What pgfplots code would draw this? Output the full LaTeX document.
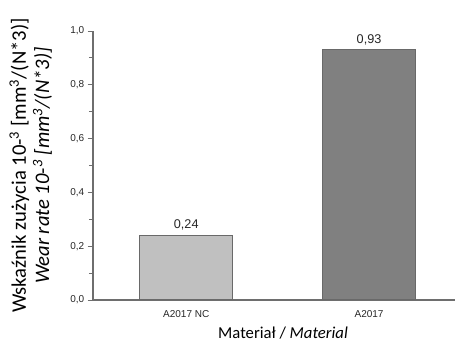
\documentclass[border=0pt]{standalone}
\usepackage{pgfplots}
\pgfplotsset{compat=1.18}
\usepackage{fontspec}
\setmainfont{Carlito}
\newfontfamily\arial{Liberation Sans}
\definecolor{barA}{RGB}{192,192,192}
\definecolor{barB}{RGB}{128,128,128}
\definecolor{edge}{RGB}{105,105,105}
\definecolor{axc}{RGB}{110,110,110}
\begin{document}
\begin{tikzpicture}[x=0.75pt,y=0.75pt]
\useasboundingbox (-93,-42) rectangle (362,300);
\begin{axis}[
  at={(0,0)}, anchor=origin,
  scale only axis, width=271.5pt, height=201.75pt,
  xmin=0.49, xmax=2.47, ymin=0, ymax=1.0,
  axis x line=bottom, axis y line=left,
  axis line style={-, draw=axc, line width=0.9pt},
  xtick={1,2}, xticklabels={A2017 NC, A2017},
  x tick style={draw=none},
  x tick label style={font=\arial\fontsize{7.5}{9}\selectfont, text=black!85, yshift=0pt},
  ytick={0,0.2,0.4,0.6,0.8,1.0},
  minor y tick num=1,
  tick align=outside,
  y tick style={draw=axc, line width=0.7pt},
  major tick length=4pt, minor tick length=3pt,
  y tick label style={font=\arial\fontsize{7.5}{9}\selectfont, text=black!85, xshift=1pt},
  /pgf/number format/assume math mode=true,
  yticklabel style={/pgf/number format/.cd, fixed, fixed zerofill, precision=1, use comma},
  ylabel={Wskaźnik zużycia 10-\textsuperscript{3} [mm\textsuperscript{3}/(N*3)]\\\textit{Wear rate 10-\textsuperscript{3} [mm\textsuperscript{3}/(N*3)]}},
  ylabel style={align=center, font=\fontsize{15.5}{17.5}\selectfont, at={(axis description cs:-0.10,0.5)}, anchor=south},
  xlabel={Materiał / \textit{Material}},
  xlabel style={font=\fontsize{12.5}{15}\selectfont, at={(axis description cs:0.525,0)}, anchor=north, yshift=-17pt},
  ybar, bar width=69.75pt, bar shift=0pt,
  nodes near coords={\pgfmathprintnumber[fixed,fixed zerofill,precision=2,use comma,assume math mode=true]{\pgfplotspointmeta}},
  nodes near coords style={font=\arial\fontsize{9.5}{11}\selectfont, text=black!85},
]
\addplot[fill=barA, draw=edge, line width=0.8pt] coordinates {(1,0.24)};
\addplot[fill=barB, draw=edge, line width=0.8pt] coordinates {(2,0.93)};
\end{axis}
\end{tikzpicture}
\end{document}
